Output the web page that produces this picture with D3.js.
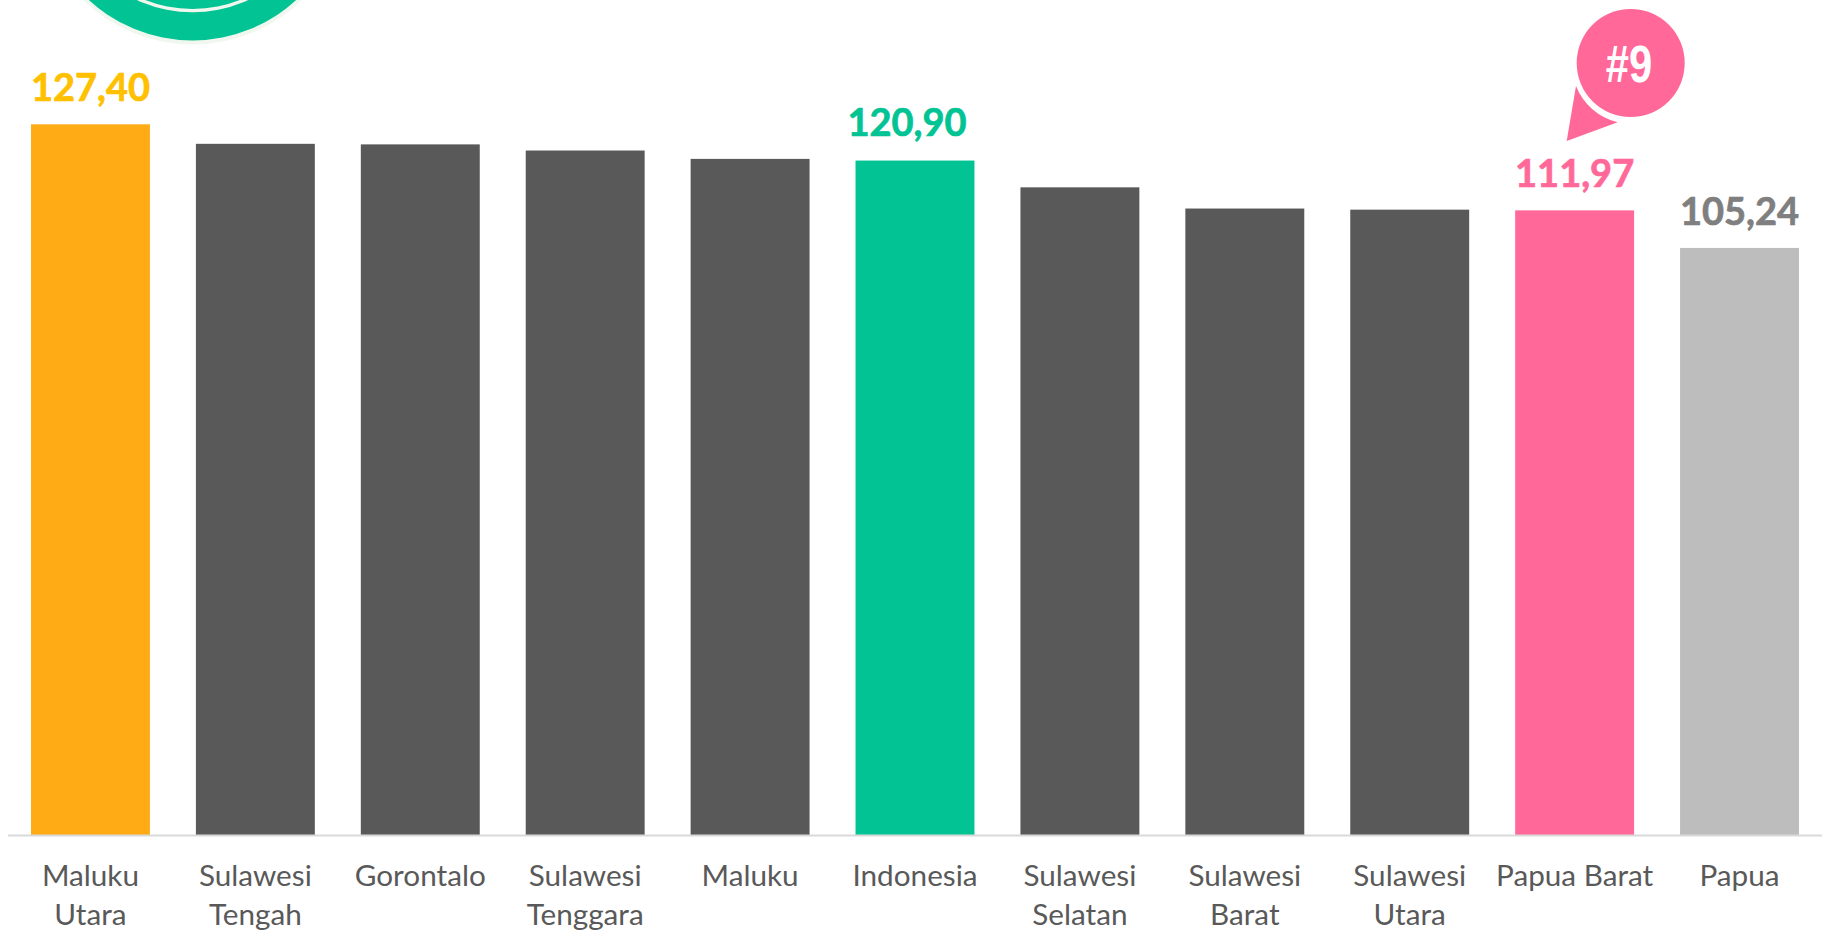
<!DOCTYPE html>
<html>
<head>
<meta charset="utf-8">
<script src="https://cdn.jsdelivr.net/npm/d3@7"></script>
<style>
  html, body { margin: 0; padding: 0; background: #fff; overflow: hidden; }
  text { font-family: Lato, sans-serif; }
</style>
</head>
<body>
<svg id="chart"></svg>
<script>
const categories = ['Maluku Utara', 'Sulawesi Tengah', 'Gorontalo', 'Sulawesi Tenggara', 'Maluku', 'Indonesia', 'Sulawesi Selatan', 'Sulawesi Barat', 'Sulawesi Utara', 'Papua Barat', 'Papua'];
const values = [127.40, 123.9, 123.8, 122.7, 121.2, 120.90, 116.1, 112.3, 112.1, 111.97, 105.24];
const barColors = ['#ffab16', '#595959', '#595959', '#595959', '#595959', '#02c394', '#595959', '#595959', '#595959', '#ff6899', '#bdbdbd'];
const shownLabels = { 'Maluku Utara': '#ffc000', 'Indonesia': '#02c394', 'Papua Barat': '#ff6899', 'Papua': '#7f7f7f' };
const noWrap = ['Papua Barat'];

const width = 1828, height = 933;
const baseline = 835;

const svg = d3.select('#chart').attr('width', width).attr('height', height);

const x = d3.scaleBand().domain(categories).range([31, 1799]).paddingInner(0.2788).paddingOuter(0);
const y = d3.scaleLinear().domain([0, 127.4]).range([baseline, 124.3]);

// logo cut off by the top edge
const logo = svg.append('g');
logo.append('circle').attr('cx', 192.5).attr('cy', -112.5).attr('r', 157).attr('fill', '#f0f7ee');
logo.append('circle').attr('cx', 192.5).attr('cy', -112.5).attr('r', 153).attr('fill', '#02c394');
logo.append('circle').attr('cx', 192.5).attr('cy', -120).attr('r', 132.3).attr('fill', '#f0f7ee');
logo.append('circle').attr('cx', 192.5).attr('cy', -120).attr('r', 129).attr('fill', '#02c394');

// bars
svg.append('g').selectAll('rect')
  .data(categories)
  .join('rect')
  .attr('x', d => x(d))
  .attr('y', (d, i) => y(values[i]))
  .attr('width', x.bandwidth())
  .attr('height', (d, i) => baseline - y(values[i]))
  .attr('fill', (d, i) => barColors[i]);

// axis line
svg.append('line')
  .attr('x1', 8).attr('x2', 1822)
  .attr('y1', baseline + 0.5).attr('y2', baseline + 0.5)
  .attr('stroke', '#d9d9d9').attr('stroke-width', 2);

// category labels
const cats = svg.append('g').selectAll('text')
  .data(categories)
  .join('text')
  .attr('text-anchor', 'middle')
  .attr('font-size', 29.7)
  .attr('fill', '#595959');

cats.each(function (d) {
  const lines = noWrap.includes(d) ? [d] : d.split(' ');
  const cx = x(d) + x.bandwidth() / 2;
  d3.select(this).selectAll('tspan')
    .data(lines)
    .join('tspan')
    .attr('x', cx)
    .attr('y', (l, i) => 886 + i * 39)
    .text(l => l);
});

// value labels, only on the highlighted bars
// the Indonesia label sits a little off its bar in the original
svg.append('g').selectAll('text')
  .data(categories.filter(d => shownLabels[d]))
  .join('text')
  .attr('text-anchor', 'middle')
  .attr('x', d => x(d) + x.bandwidth() / 2 + (d === 'Indonesia' ? -8 : 0))
  .attr('y', d => y(values[categories.indexOf(d)]) - (d === 'Indonesia' ? 25 : 23))
  .attr('font-size', 38)
  .attr('font-weight', 700)
  .attr('fill', d => shownLabels[d])
  .attr('stroke', d => shownLabels[d])
  .attr('stroke-width', 0.7)
  .text(d => values[categories.indexOf(d)].toFixed(2).replace('.', ','));

// rank callout
const callout = svg.append('g');
callout.append('path')
  .attr('d', 'M1576,86 L1566.7,141 L1617.7,122.3 A60,60 0 0 1 1576,86 Z')
  .attr('fill', '#ff6899');
callout.append('circle').attr('cx', 1630.7).attr('cy', 63).attr('r', 54).attr('fill', '#ff6899');
callout.append('text')
  .attr('transform', 'translate(1629,82) scale(0.82,1)')
  .attr('text-anchor', 'middle')
  .attr('font-size', 51)
  .attr('font-weight', 700)
  .attr('fill', '#fff')
  .style('font-family', '"Liberation Sans", sans-serif')
  .text('#9');
</script>
</body>
</html>
